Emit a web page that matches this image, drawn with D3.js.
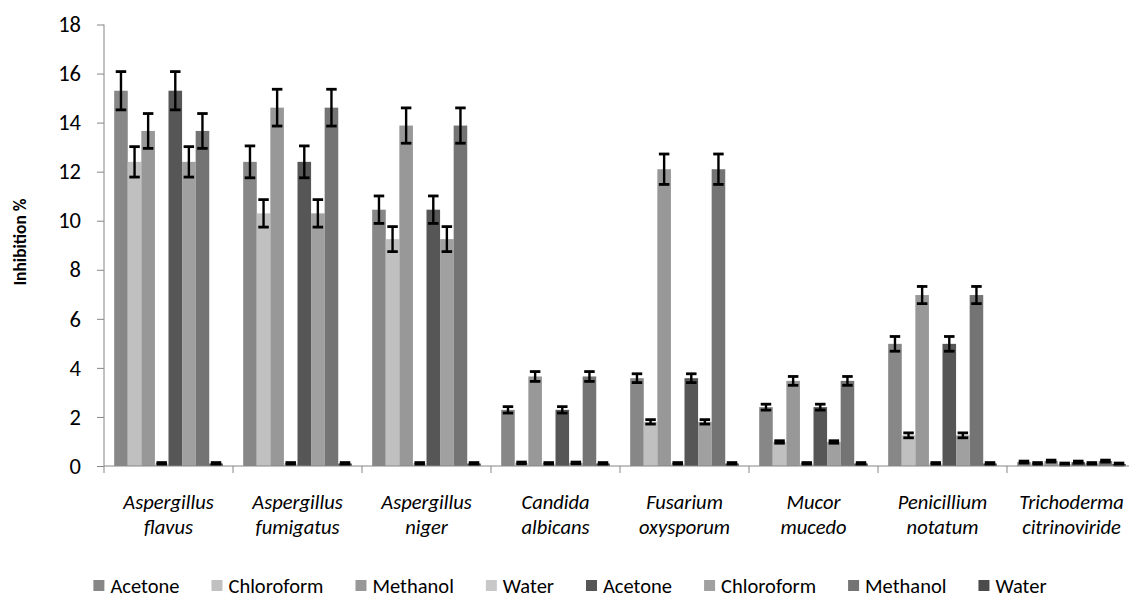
<!DOCTYPE html>
<html>
<head>
<meta charset="utf-8">
<script src="https://cdn.jsdelivr.net/npm/d3@7"></script>
<style>
  html, body { margin: 0; padding: 0; background: #fff; }
  svg { display: block; font-family: Carlito, Calibri, Lato, sans-serif; }
</style>
</head>
<body>
<svg id="chart" width="1129" height="598"></svg>
<script>
// Fungal species (x categories), two text lines each
const species = [
  ["Aspergillus", "flavus"],
  ["Aspergillus", "fumigatus"],
  ["Aspergillus", "niger"],
  ["Candida", "albicans"],
  ["Fusarium", "oxysporum"],
  ["Mucor", "mucedo"],
  ["Penicillium", "notatum"],
  ["Trichoderma", "citrinoviride"]
];

// Extract series: mean inhibition % and standard error
const acetone       = [15.3, 12.4, 10.45, 2.29, 3.58, 2.4, 4.98, 0.16];
const acetoneErr    = [0.78, 0.65, 0.56, 0.13, 0.18, 0.12, 0.3, 0.04];
const chloroform    = [12.4, 10.3, 9.25, 0.12, 1.8, 0.98, 1.25, 0.1];
const chloroformErr = [0.62, 0.56, 0.51, 0.04, 0.09, 0.05, 0.1, 0.04];
const methanol      = [13.66, 14.61, 13.88, 3.65, 12.1, 3.47, 6.97, 0.2];
const methanolErr   = [0.71, 0.75, 0.72, 0.2, 0.62, 0.18, 0.35, 0.04];
const water         = [0.1, 0.1, 0.1, 0.1, 0.1, 0.1, 0.1, 0.08];
const waterErr      = [0.04, 0.04, 0.04, 0.04, 0.04, 0.04, 0.04, 0.04];

const seriesNames  = ["Acetone", "Chloroform", "Methanol", "Water", "Acetone", "Chloroform", "Methanol", "Water"];
const seriesColors = ["#878787", "#c0c0c0", "#989898", "#c8c8c8", "#565656", "#a0a0a0", "#747474", "#4b4b4b"];
const seriesValues = [acetone, chloroform, methanol, water, acetone, chloroform, methanol, water];
const seriesErrors = [acetoneErr, chloroformErr, methanolErr, waterErr, acetoneErr, chloroformErr, methanolErr, waterErr];

const yTicks = [0, 2, 4, 6, 8, 10, 12, 14, 16, 18];

const svg = d3.select("#chart");
const axisColor = "#868686";

const plot = { left: 104, right: 1136, top: 24.5, bottom: 466 };

const y = d3.scaleLinear().domain([0, 18]).range([plot.bottom, plot.top]);
const x0 = d3.scaleBand().domain(d3.range(species.length)).range([plot.left, plot.right]).paddingInner(0).paddingOuter(0);
// 150% gap width between clusters
const bw = x0.bandwidth() / (seriesNames.length + 1.5);
const x1 = d3.scaleBand().domain(d3.range(seriesNames.length))
  .range([0.75 * bw, 0.75 * bw + bw * seriesNames.length]).padding(0);

const rows = [];
species.forEach((s, i) => {
  seriesNames.forEach((n, j) => {
    rows.push({ g: i, s: j, v: seriesValues[j][i], e: seriesErrors[j][i] });
  });
});

// Bars
svg.append("g").selectAll("rect").data(rows).join("rect")
  .attr("x", d => x0(d.g) + x1(d.s))
  .attr("width", x1.bandwidth())
  .attr("y", d => y(d.v))
  .attr("height", d => y(0) - y(d.v))
  .attr("fill", d => seriesColors[d.s]);

// Error bars
const eb = svg.append("g").attr("stroke", "#000").attr("stroke-width", 2.4).attr("fill", "none");
const capW = 10.5;
rows.forEach(d => {
  const cx = x0(d.g) + x1(d.s) + x1.bandwidth() / 2;
  const yt = y(d.v + d.e), yb = y(d.v - d.e);
  eb.append("line").attr("x1", cx).attr("x2", cx).attr("y1", yt).attr("y2", yb);
  eb.append("line").attr("x1", cx - capW / 2).attr("x2", cx + capW / 2).attr("y1", yt).attr("y2", yt).attr("stroke-width", 2.8);
  eb.append("line").attr("x1", cx - capW / 2).attr("x2", cx + capW / 2).attr("y1", yb).attr("y2", yb).attr("stroke-width", 2.8);
});

// Y axis
const yAxis = svg.append("g").attr("transform", `translate(${plot.left},0)`)
  .call(d3.axisLeft(y).tickValues(yTicks).tickSize(7).tickPadding(16).tickFormat(d3.format("d")));
yAxis.select(".domain").attr("stroke", axisColor).attr("d", `M0,${plot.top}V${plot.bottom}`);
yAxis.selectAll(".tick line").attr("stroke", axisColor);
yAxis.selectAll(".tick text").attr("fill", "#000").attr("font-size", 22.5).attr("font-family", "Carlito, Calibri, Lato, sans-serif");

// X axis: baseline with ticks between clusters
const xg = svg.append("g");
xg.append("line").attr("x1", plot.left).attr("x2", 1129).attr("y1", plot.bottom).attr("y2", plot.bottom)
  .attr("stroke", axisColor).attr("stroke-width", 1);
xg.selectAll("line.tk").data(d3.range(species.length)).join("line").attr("class", "tk")
  .attr("x1", d => x0(d)).attr("x2", d => x0(d))
  .attr("y1", plot.bottom).attr("y2", plot.bottom + 7)
  .attr("stroke", axisColor);

// Category labels
const lab = xg.selectAll("text.cat").data(species).join("text").attr("class", "cat")
  .attr("text-anchor", "middle").attr("font-style", "italic").attr("font-size", 20.5).attr("fill", "#000")
  .attr("transform", (d, i) => `translate(${x0(i) + x0.bandwidth() / 2},0)`);
lab.append("tspan").attr("x", 0).attr("y", 509).text(d => d[0]);
lab.append("tspan").attr("x", 0).attr("y", 534).text(d => d[1]);

// Axis title
svg.append("text").attr("transform", "translate(26,242) rotate(-90)")
  .attr("text-anchor", "middle").attr("font-weight", "bold").attr("font-size", 17.5).attr("fill", "#000")
  .text("Inhibition %");

// Legend
const leg = svg.append("g");
const items = leg.selectAll("g").data(seriesNames).join("g");
items.append("rect").attr("width", 11).attr("height", 11).attr("y", 580).attr("fill", (d, i) => seriesColors[i]);
items.append("text").attr("x", 17).attr("y", 592.5).attr("font-size", 20.5).attr("fill", "#000").text(d => d);
let pos = 0;
const offs = [];
items.each(function () {
  offs.push(pos);
  pos += 17 + this.querySelector("text").getComputedTextLength() + 32;
});
const total = pos - 32;
const startX = 570 - total / 2;
items.attr("transform", (d, i) => `translate(${startX + offs[i]},0)`);
</script>
</body>
</html>
